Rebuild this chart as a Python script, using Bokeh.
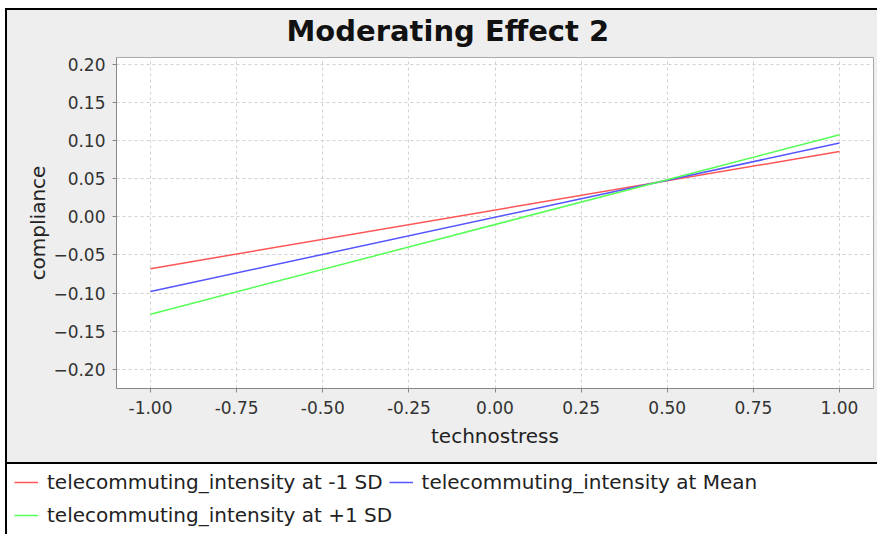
from bokeh.plotting import figure
from bokeh.models import ColumnDataSource, FixedTicker, Legend, LegendItem, Range1d
from bokeh.layouts import column
from bokeh.embed import file_html
from bokeh.resources import INLINE

# ---- data ----
chart_title = "Moderating Effect 2"
technostress = [-1.0, 1.0]
compliance_minus_1sd = [-0.068, 0.086]
compliance_mean = [-0.098, 0.097]
compliance_plus_1sd = [-0.128, 0.108]
series_labels = [
    "telecommuting_intensity at -1 SD",
    "telecommuting_intensity at Mean",
    "telecommuting_intensity at +1 SD",
]
series_colors = ["#FF5555", "#5555FF", "#55FF55"]
x_ticks = [-1.0, -0.75, -0.5, -0.25, 0.0, 0.25, 0.5, 0.75, 1.0]
x_tick_labels = ["-1.00", "-0.75", "-0.50", "-0.25", "0.00", "0.25", "0.50", "0.75", "1.00"]
y_ticks = [-0.2, -0.15, -0.1, -0.05, 0.0, 0.05, 0.1, 0.15, 0.2]
y_tick_labels = ["\u22120.20", "\u22120.15", "\u22120.10", "\u22120.05", "0.00", "0.05", "0.10", "0.15", "0.20"]

source = ColumnDataSource(dict(
    x=technostress,
    lo=compliance_minus_1sd,
    mid=compliance_mean,
    hi=compliance_plus_1sd,
))
cols = ["lo", "mid", "hi"]

FONT = "DejaVu Sans"
PANEL = "#EEEEEE"

top_bg = ("linear-gradient(#000,#000) 0 8px / 100% 2px no-repeat, "
          "linear-gradient(#000,#000) 0 8px / 2px 100% no-repeat, "
          "linear-gradient(#fff,#fff) 0 0 / 100% 8px no-repeat, " + PANEL)
legend_bg = ("linear-gradient(#000,#000) 0 0 / 100% 2px no-repeat, "
             "linear-gradient(#000,#000) 0 0 / 2px 100% no-repeat, #fff")

p = figure(width=872, height=462,
           x_range=Range1d(-1.0987, 1.0987), y_range=Range1d(-0.2255, 0.2095),
           toolbar_location=None, output_backend="svg",
           min_border_left=111, min_border_right=4, min_border_top=57, min_border_bottom=74)
p.frame_align = False
p.border_fill_color = None
p.background_fill_color = "white"
p.outline_line_color = "#AAAAAA"
p.styles = {"background": top_bg}

p.title.text = chart_title
p.title.align = "left"
p.title.offset = 170
p.title.text_font = FONT
p.title.text_font_size = "29px"
p.title.text_font_style = "bold"
p.title.text_color = "#111111"
p.title.standoff = 19

for ax in (p.xaxis[0], p.yaxis[0]):
    ax.axis_line_color = "#888888"
    ax.major_tick_line_color = "#888888"
    ax.major_tick_out = 4
    ax.major_tick_in = 0
    ax.minor_tick_line_color = None
    ax.major_label_text_font = FONT
    ax.major_label_text_font_size = "17px"
    ax.major_label_text_color = "#333333"
    ax.axis_label_text_font = FONT
    ax.axis_label_text_font_size = "20px"
    ax.axis_label_text_font_style = "normal"
    ax.axis_label_text_color = "#222222"

p.xaxis.major_label_standoff = 8
p.yaxis.major_label_standoff = 7
p.xaxis.ticker = FixedTicker(ticks=x_ticks)
p.yaxis.ticker = FixedTicker(ticks=y_ticks)
p.xaxis.major_label_overrides = dict(zip(x_ticks, x_tick_labels))
p.yaxis.major_label_overrides = dict(zip(y_ticks, y_tick_labels))
p.xaxis.axis_label = "technostress"
p.yaxis.axis_label = "compliance"
p.xaxis.axis_label_standoff = 7
p.yaxis.axis_label_standoff = 0

p.grid.grid_line_color = "#D0D0D0"
p.grid.grid_line_dash = "3 3"
p.grid.grid_line_width = 1

for c, col in zip(cols, series_colors):
    p.line(x="x", y=c, source=source, line_color=col, line_width=1.5)

# ---- legend panel ----
leg = figure(width=872, height=72,
             x_range=Range1d(10, 11), y_range=Range1d(10, 11),
             toolbar_location=None, output_backend="svg",
             min_border=0, x_axis_type=None, y_axis_type=None)
leg.frame_align = False
leg.outline_line_color = None
leg.background_fill_color = None
leg.border_fill_color = None
leg.styles = {"background": legend_bg}
items = []
for c, col, lab in zip(cols, series_colors, series_labels):
    r = leg.line(x="x", y=c, source=source, line_color=col, line_width=1.5)
    items.append(LegendItem(label=lab, renderers=[r]))

leg_style = dict(margin=0, padding=0, spacing=6, glyph_width=24, label_standoff=9,
                 label_text_font=FONT, label_text_font_size="20px", label_text_color="#222222",
                 background_fill_alpha=0, border_line_color=None)
legend_row1 = Legend(items=items[:2], location=(9, 40), orientation="horizontal", **leg_style)
legend_row2 = Legend(items=items[2:], location=(9, 7), orientation="horizontal", **leg_style)
leg.add_layout(legend_row1)
leg.add_layout(legend_row2)

layout = column(p, leg, styles={"margin-left": "5px"})

open("out.html", "w").write(file_html(layout, INLINE))
